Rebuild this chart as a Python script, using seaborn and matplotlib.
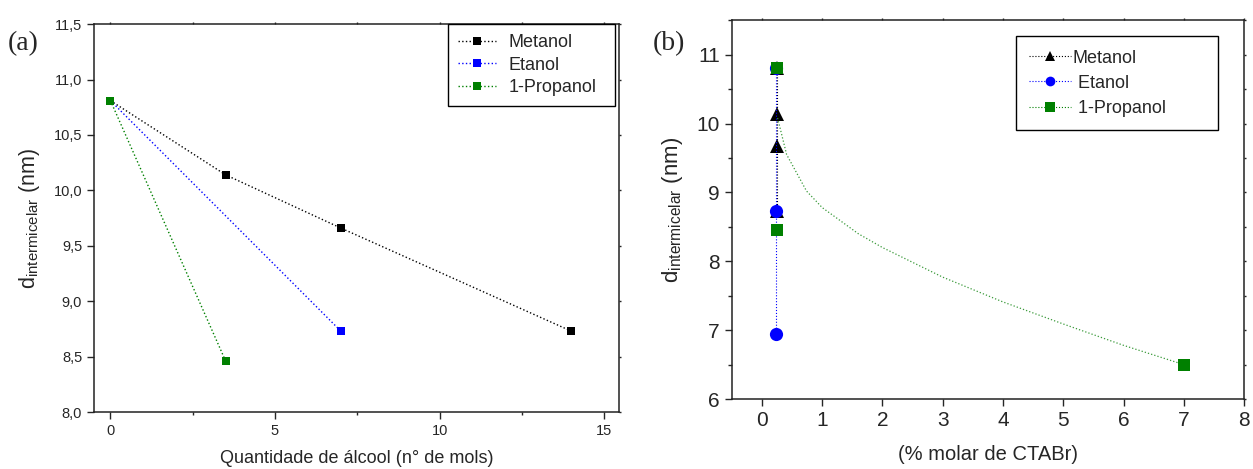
import numpy as np
import pandas as pd
import matplotlib
matplotlib.use("Agg")
import matplotlib.pyplot as plt
import seaborn as sns
from matplotlib.lines import Line2D
from matplotlib.ticker import MultipleLocator, FuncFormatter

# panel (a): distance vs amount of alcohol
a_metanol_x = [0, 3.5, 7, 14]
a_metanol_y = [10.81, 10.14, 9.66, 8.73]
a_etanol_x = [0, 7]
a_etanol_y = [10.81, 8.73]
a_propanol_x = [0, 3.5]
a_propanol_y = [10.81, 8.46]

# panel (b): distance vs % molar CTABr
b_metanol_x = [0.25, 0.25, 0.25, 0.25]
b_metanol_y = [10.81, 10.14, 9.67, 8.73]
b_etanol_x = [0.24, 0.24, 0.24]
b_etanol_y = [10.81, 8.73, 6.95]
b_propanol_x = [0.25, 0.25, 7.0]
b_propanol_y = [10.81, 8.46, 6.50]
# green dotted guide curve
b_curve_x = [0.26, 0.30, 0.41, 0.74, 1.0, 1.6, 2.0, 3.0, 4.0, 5.0, 6.0, 7.0]
b_curve_y = [10.08, 9.94, 9.55, 9.02, 8.78, 8.40, 8.20, 7.77, 7.41, 7.09, 6.78, 6.50]

labels = ["Metanol", "Etanol", "1-Propanol"]
labels_b = ["Metanol", " Etanol", " 1-Propanol"]
colors = ["black", "#0000ff", "#008000"]

sns.set_style("ticks")
plt.rcParams["font.family"] = ["Liberation Sans", "DejaVu Sans"]
plt.rcParams["mathtext.default"] = "regular"
plt.rcParams["axes.edgecolor"] = "#222222"
plt.rcParams["axes.linewidth"] = 1.1


def shrink_far_ticks(ax):
    # ticks on the top and right spines are just tiny stubs in the original
    for axis in (ax.xaxis, ax.yaxis):
        for tick in axis.get_major_ticks() + axis.get_minor_ticks():
            tick.tick2line.set_markersize(1.5)


fig = plt.figure(figsize=(12.53, 4.69), dpi=100)
ax_a = fig.add_axes([0.075, 0.1215, 0.419, 0.827])
ax_b = fig.add_axes([0.584, 0.149, 0.409, 0.808])

# ---- panel (a)
df_a = pd.DataFrame({
    "x": a_metanol_x + a_etanol_x + a_propanol_x,
    "y": a_metanol_y + a_etanol_y + a_propanol_y,
    "alcool": [labels[0]] * len(a_metanol_x) + [labels[1]] * len(a_etanol_x)
    + [labels[2]] * len(a_propanol_x),
})
sns.lineplot(data=df_a, x="x", y="y", hue="alcool", palette=colors, hue_order=labels,
             sort=False, estimator=None, marker="s", markersize=6, markeredgewidth=0,
             linestyle=":", linewidth=1.0, legend=False, ax=ax_a)
ax_a.set_xlim(-0.5, 15.45)
ax_a.set_ylim(8.0, 11.5)
ax_a.xaxis.set_major_locator(MultipleLocator(5))
ax_a.xaxis.set_minor_locator(MultipleLocator(2.5))
ax_a.yaxis.set_major_locator(MultipleLocator(0.5))
ax_a.yaxis.set_major_formatter(FuncFormatter(lambda v, p: f"{v:.1f}".replace(".", ",")))
ax_a.tick_params(which="both", direction="out", top=True, right=True, labelsize=10.5, width=1.0)
ax_a.tick_params(which="major", length=5)
ax_a.tick_params(which="minor", length=2.5)
ax_a.set_xlabel("Quantidade de álcool (n° de mols)", fontsize=13, labelpad=9)
ax_a.set_ylabel("d$_{intermicelar}$ (nm)", fontsize=15.5, labelpad=8)
handles_a = [Line2D([], [], color=c, linestyle=":", linewidth=1.0, marker="s",
                    markersize=6, markeredgewidth=0, label=l) for c, l in zip(colors, labels)]
leg = ax_a.legend(handles=handles_a, loc="upper left", bbox_to_anchor=(0.674, 1.0, 0.318, 0),
                  mode="expand", borderaxespad=0, fontsize=13, frameon=True, fancybox=False,
                  edgecolor="black", framealpha=1, handlelength=2.1, handletextpad=0.7,
                  borderpad=0.55, labelspacing=0.3)
leg.get_frame().set_linewidth(1.0)
fig.text(0.006, 0.908, "(a)", fontsize=20, family="Liberation Serif", va="center")

# ---- panel (b)
sns.lineplot(x=b_metanol_x, y=b_metanol_y, sort=False, estimator=None, color=colors[0],
             marker="^", markersize=10, markeredgewidth=0, linestyle=":", linewidth=0.8,
             ax=ax_b)
sns.lineplot(x=b_etanol_x, y=b_etanol_y, sort=False, estimator=None, color=colors[1],
             marker="o", markersize=9.5, markeredgewidth=0, linestyle=":", linewidth=0.8,
             ax=ax_b)
sns.lineplot(x=b_curve_x, y=b_curve_y, sort=False, estimator=None, color="#3a9a3a",
             linestyle=":", linewidth=0.9, ax=ax_b)
sns.scatterplot(x=b_propanol_x, y=b_propanol_y, color=colors[2], marker="s", s=80,
                linewidth=0, ax=ax_b, zorder=5)
ax_b.set_xlim(-0.5, 8)
ax_b.set_ylim(6, 11.5)
ax_b.xaxis.set_major_locator(MultipleLocator(1))
ax_b.yaxis.set_major_locator(MultipleLocator(1))
ax_b.yaxis.set_minor_locator(MultipleLocator(0.5))
ax_b.tick_params(which="both", direction="out", top=True, right=True, labelsize=15, width=1.0)
ax_b.tick_params(which="major", length=5)
ax_b.tick_params(which="minor", length=3)
ax_b.set_xlabel("(% molar de CTABr)", fontsize=14.5, labelpad=11)
ax_b.set_ylabel("d$_{intermicelar}$ (nm)", fontsize=16, labelpad=8)
markers_b = ["^", "o", "s"]
handles_b = [Line2D([], [], color=c, linestyle=":", linewidth=0.8, marker=m,
                    markersize=7, markeredgewidth=0, label=l)
             for c, m, l in zip(colors, markers_b, labels_b)]
leg_b = ax_b.legend(handles=handles_b, loc="upper left", bbox_to_anchor=(0.554, 0.958, 0.394, 0),
                    mode="expand", borderaxespad=0, fontsize=13, frameon=True, fancybox=False,
                    edgecolor="black", framealpha=1, handlelength=2.3, handletextpad=0.1,
                    borderpad=0.75, labelspacing=0.45)
leg_b.get_frame().set_linewidth(1.0)
fig.text(0.521, 0.908, "(b)", fontsize=20, family="Liberation Serif", va="center")

shrink_far_ticks(ax_a)
shrink_far_ticks(ax_b)

fig.savefig("out.png", dpi=100)
